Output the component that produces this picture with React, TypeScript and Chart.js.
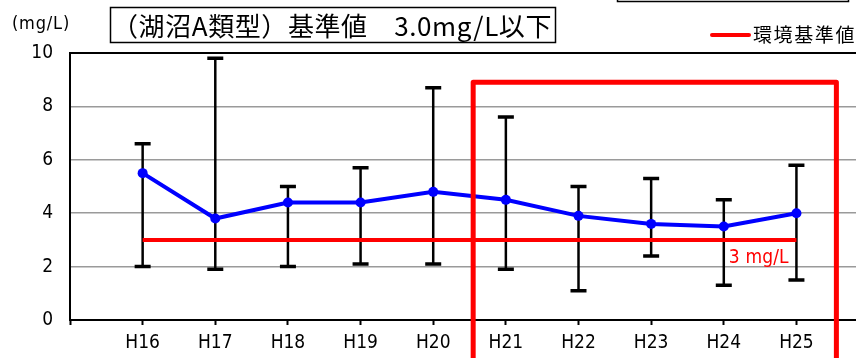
import React, { useEffect, useRef } from 'react';
import { Chart, registerables } from 'chart.js';
Chart.register(...registerables);

// ---- data ----
const years = ['H16', 'H17', 'H18', 'H19', 'H20', 'H21', 'H22', 'H23', 'H24', 'H25'];
const meanValues = [5.5, 3.8, 4.4, 4.4, 4.8, 4.5, 3.9, 3.6, 3.5, 4.0];
const maxValues = [6.6, 9.8, 5.0, 5.7, 8.7, 7.6, 5.0, 5.3, 4.5, 5.8];
const minValues = [2.0, 1.9, 2.0, 2.1, 2.1, 1.9, 1.1, 2.4, 1.3, 1.5];
const standardValues = [3, 3, 3, 3, 3, 3, 3, 3, 3, 3];
const yTicks = [0, 2, 4, 6, 8, 10];
const xTickIndexes = [-1, 0, 1, 2, 3, 4, 5, 6, 7, 8, 9];
const titleText = '（湖沼A類型）基準値　3.0mg/L以下';
const unitText = '(mg/L)';
const legendText = '環境基準値';
const standardLabel = '3 mg/L';
// highlighted period (H21–H25), in axis units
const highlightStart = 4.55;
const highlightEnd = 9.55;
const highlightTop = 8.9;

const NARROW = '"Liberation Sans Narrow", "DejaVu Sans Condensed", "Liberation Sans", sans-serif';
const JP = '"Noto Sans CJK JP", sans-serif';

function fitText(ctx: CanvasRenderingContext2D, text: string, x: number, y: number, target: number) {
  (ctx as any).letterSpacing = '0px';
  const natural = ctx.measureText(text).width;
  const n = Array.from(text).length;
  const ls = n > 1 ? (target - natural) / n : 0;
  (ctx as any).letterSpacing = ls + 'px';
  ctx.fillText(text, x, y);
  (ctx as any).letterSpacing = '0px';
}

const decorations = {
  id: 'decorations',
  beforeDatasetsDraw(chart: any) {
    const { ctx, scales } = chart;
    const xs = scales.x, ys = scales.y;
    ctx.save();
    ctx.strokeStyle = '#000';
    for (let i = 0; i < years.length; i++) {
      const px = xs.getPixelForValue(i);
      const top = ys.getPixelForValue(maxValues[i]);
      const bot = ys.getPixelForValue(minValues[i]);
      ctx.lineWidth = 2.5;
      ctx.beginPath();
      ctx.moveTo(px, top);
      ctx.lineTo(px, bot);
      ctx.stroke();
      ctx.lineWidth = 3.5;
      ctx.beginPath();
      ctx.moveTo(px - 8, top);
      ctx.lineTo(px + 8, top);
      ctx.moveTo(px - 8, bot);
      ctx.lineTo(px + 8, bot);
      ctx.stroke();
    }
    ctx.restore();
  },
  afterDatasetsDraw(chart: any) {
    const { ctx, scales } = chart;
    const xs = scales.x, ys = scales.y;
    ctx.save();
    ctx.fillStyle = '#ff0000';
    ctx.font = `19px ${NARROW}`;
    ctx.textBaseline = 'middle';
    ctx.textAlign = 'left';
    fitText(ctx, standardLabel, xs.getPixelForValue(8) + 5, ys.getPixelForValue(3) + 18, 60);
    ctx.strokeStyle = '#ff0000';
    ctx.lineWidth = 5;
    ctx.lineJoin = 'round';
    const l = xs.getPixelForValue(highlightStart);
    const r = xs.getPixelForValue(highlightEnd);
    const t = ys.getPixelForValue(highlightTop);
    ctx.beginPath();
    ctx.moveTo(l, chart.height + 10);
    ctx.lineTo(l, t);
    ctx.lineTo(r, t);
    ctx.lineTo(r, chart.height + 10);
    ctx.stroke();
    ctx.restore();
  },
  afterDraw(chart: any) {
    const { ctx } = chart;
    ctx.save();
    const ca = chart.chartArea;
    ctx.strokeStyle = '#000';
    ctx.lineWidth = 2;
    ctx.beginPath();
    ctx.moveTo(ca.left, ca.top);
    ctx.lineTo(ca.right, ca.top);
    ctx.stroke();
    ctx.fillStyle = '#000';
    ctx.font = `18px ${NARROW}`;
    ctx.textBaseline = 'middle';
    ctx.textAlign = 'left';
    fitText(ctx, unitText, 12, 24, 58);
    ctx.lineWidth = 1.5;
    ctx.strokeRect(110.5, 7.5, 445, 35);
    ctx.font = `26px ${JP}`;
    fitText(ctx, titleText, 112, 26, 440);
    ctx.strokeStyle = '#ff0000';
    ctx.lineWidth = 4;
    ctx.lineCap = 'round';
    ctx.beginPath();
    ctx.moveTo(712, 35);
    ctx.lineTo(749, 35);
    ctx.stroke();
    ctx.fillStyle = '#000';
    ctx.font = `19px ${JP}`;
    fitText(ctx, legendText, 753, 35, 103);
    ctx.strokeStyle = '#000';
    ctx.lineWidth = 1.5;
    ctx.lineCap = 'butt';
    ctx.strokeRect(617.5, -10, 231, 11.5);
    ctx.restore();
  },
};

export default function App() {
  const ref = useRef<HTMLCanvasElement | null>(null);
  useEffect(() => {
    if (!ref.current) return;
    const chart = new Chart(ref.current, {
      type: 'line',
      data: {
        datasets: [
          {
            label: '平均値',
            data: meanValues.map((v, i) => ({ x: i, y: v })),
            borderColor: '#0000ff',
            backgroundColor: '#0000ff',
            borderWidth: 4,
            pointRadius: 5,
            pointBorderWidth: 0,
            pointBackgroundColor: '#0000ff',
            tension: 0,
            order: 0,
          },
          {
            label: legendText,
            data: standardValues.map((v, i) => ({ x: i, y: v })),
            borderColor: '#ff0000',
            borderWidth: 4,
            pointRadius: 0,
            tension: 0,
            order: 1,
          },
        ],
      },
      options: {
        responsive: false,
        animation: false,
        layout: { autoPadding: false, padding: { top: 53, right: 0, bottom: 0, left: 0 } },
        plugins: { legend: { display: false }, tooltip: { enabled: false }, title: { display: false } },
        scales: {
          x: {
            type: 'linear',
            min: -1,
            max: 9.82,
            afterBuildTicks: (s: any) => {
              s.ticks = xTickIndexes.map((v) => ({ value: v }));
            },
            afterFit: (s: any) => {
              s.height = 38;
              s.paddingLeft = 0;
              s.paddingRight = 0;
            },
            ticks: {
              callback: (v: any) => years[v as number] ?? '',
              font: { family: NARROW, size: 19 },
              color: '#000',
              padding: 7,
              maxRotation: 0,
              autoSkip: false,
            },
            grid: { drawOnChartArea: false, drawTicks: true, tickLength: 5, tickColor: '#000', tickWidth: 2 },
            border: { display: true, color: '#000', width: 2 },
          },
          y: {
            min: 0,
            max: 10,
            afterBuildTicks: (s: any) => {
              s.ticks = yTicks.map((v) => ({ value: v }));
            },
            afterFit: (s: any) => {
              s.width = 70;
              s.paddingTop = 0;
              s.paddingBottom = 0;
            },
            ticks: { font: { family: NARROW, size: 19 }, color: '#000', padding: 17 },
            grid: {
              drawTicks: false,
              color: (c: any) => (c.tick && (c.tick.value === 0 || c.tick.value === 10) ? 'rgba(0,0,0,0)' : '#9a9a9a'),
              lineWidth: 1.5,
            },
            border: { display: true, color: '#000', width: 2 },
          },
        },
      } as any,
      plugins: [decorations],
    });
    return () => chart.destroy();
  }, []);
  return (
    <div style={{ position: 'absolute', left: 0, top: 0, width: 856, height: 358, background: '#fff' }}>
      <canvas ref={ref} width={856} height={358} style={{ display: 'block' }} />
    </div>
  );
}
